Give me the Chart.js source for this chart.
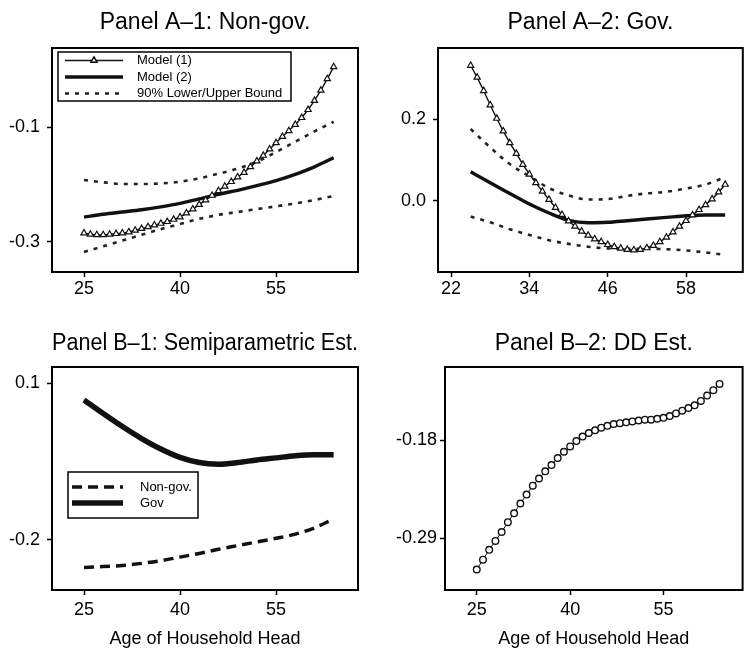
<!DOCTYPE html>
<html>
<head>
<meta charset="utf-8">
<script src="https://cdn.jsdelivr.net/npm/chart.js@4.4.1/dist/chart.umd.min.js"></script>
<style>
  html, body { margin: 0; padding: 0; background: #fff; }
  #wrap { position: relative; width: 748px; height: 651px; overflow: hidden; }
  canvas { position: absolute; }
</style>
</head>
<body>
<div id="wrap">
  <canvas id="chartA1" width="374" height="310" style="left:0;top:0"></canvas>
  <canvas id="chartA2" width="374" height="310" style="left:374px;top:0"></canvas>
  <canvas id="chartB1" width="374" height="341" style="left:0;top:310px"></canvas>
  <canvas id="chartB2" width="374" height="341" style="left:374px;top:310px"></canvas>
</div>
<script>
// ages: one point per year for the marker series, every 3 years for the smooth lines
const agesYearly = [25, 26, 27, 28, 29, 30, 31, 32, 33, 34, 35, 36, 37, 38, 39, 40, 41, 42, 43, 44,
                    45, 46, 47, 48, 49, 50, 51, 52, 53, 54, 55, 56, 57, 58, 59, 60, 61, 62, 63, 64];
const agesCoarse = [25, 28, 31, 34, 37, 40, 43, 46, 49, 52, 55, 58, 61, 64];

// Panel A-1: Non-gov.
const a1Model1 = [-0.285, -0.287, -0.288, -0.288, -0.287, -0.286, -0.285, -0.283, -0.280, -0.277,
                  -0.274, -0.271, -0.268, -0.265, -0.261, -0.257, -0.250, -0.243, -0.235, -0.227,
                  -0.219, -0.211, -0.203, -0.195, -0.187, -0.179, -0.169, -0.159, -0.149, -0.138,
                  -0.127, -0.116, -0.106, -0.095, -0.083, -0.069, -0.053, -0.035, -0.015, 0.006];
const a1Model2 = [-0.257, -0.252, -0.248, -0.244, -0.239, -0.233, -0.225, -0.217, -0.210, -0.202, -0.193, -0.182, -0.169, -0.153];
const a1Upper  = [-0.192, -0.196, -0.199, -0.199, -0.198, -0.195, -0.189, -0.181, -0.172, -0.160, -0.143, -0.125, -0.107, -0.090];
const a1Lower  = [-0.318, -0.308, -0.298, -0.288, -0.278, -0.269, -0.260, -0.253, -0.248, -0.243, -0.238, -0.233, -0.227, -0.220];
const a1XTicks = ['25', '40', '55'];
const a1YTicks = ['-0.3', '-0.1'];

// Panel A-2: Gov.
const a2Model1 = [0.332, 0.303, 0.270, 0.235, 0.202, 0.171, 0.142, 0.116, 0.089, 0.065,
                  0.044, 0.023, 0.003, -0.017, -0.034, -0.050, -0.063, -0.075, -0.085, -0.094,
                  -0.101, -0.108, -0.113, -0.117, -0.120, -0.121, -0.120, -0.116, -0.110, -0.101,
                  -0.090, -0.077, -0.063, -0.049, -0.035, -0.022, -0.010, 0.004, 0.021, 0.040];
const a2Model2 = [0.071, 0.044, 0.018, -0.008, -0.030, -0.048, -0.054, -0.053, -0.049, -0.045, -0.041, -0.037, -0.035, -0.035];
const a2Upper  = [0.176, 0.131, 0.090, 0.060, 0.031, 0.013, 0.003, 0.004, 0.012, 0.018, 0.022, 0.030, 0.040, 0.058];
const a2Lower  = [-0.039, -0.053, -0.070, -0.084, -0.097, -0.106, -0.113, -0.117, -0.118, -0.118, -0.119, -0.122, -0.127, -0.133];
const a2XTicks = ['22', '34', '46', '58'];
const a2YTicks = ['0.0', '0.2'];

// Panel B-1: Semiparametric Est.
const b1NonGov = [-0.253, -0.251, -0.249, -0.245, -0.240, -0.233, -0.226, -0.218, -0.211, -0.204, -0.197, -0.189, -0.177, -0.160];
const b1Gov    = [0.068, 0.042, 0.017, -0.006, -0.026, -0.042, -0.052, -0.055, -0.052, -0.047, -0.043, -0.039, -0.037, -0.037];
const b1XTicks = ['25', '40', '55'];
const b1YTicks = ['-0.2', '0.1'];

// Panel B-2: DD Est.
const b2DD = [-0.325, -0.314, -0.303, -0.293, -0.283, -0.272, -0.262, -0.251, -0.241, -0.231,
              -0.223, -0.215, -0.208, -0.200, -0.193, -0.187, -0.181, -0.176, -0.172, -0.169,
              -0.166, -0.164, -0.162, -0.161, -0.160, -0.159, -0.158, -0.157, -0.157, -0.156,
              -0.155, -0.153, -0.150, -0.147, -0.144, -0.141, -0.136, -0.130, -0.124, -0.117];
const b2XTicks = ['25', '40', '55'];
const b2YTicks = ['-0.29', '-0.18'];

const FONT = '"Liberation Sans", Arial, Helvetica, sans-serif';
Chart.defaults.font.family = FONT;
Chart.defaults.color = '#000';

const pts = (xs, ys) => xs.map((x, i) => ({ x, y: ys[i] }));

// box round the plot area
const framePlugin = {
  id: 'frame',
  afterDraw(chart) {
    const { ctx, chartArea: a } = chart;
    ctx.save();
    ctx.strokeStyle = '#000';
    ctx.lineWidth = 2;
    ctx.strokeRect(a.left, a.top, a.right - a.left, a.bottom - a.top);
    ctx.restore();
  }
};

// legend drawn inside the plot with a border, like base R legend()
const boxLegendPlugin = {
  id: 'boxLegend',
  afterDraw(chart, args, opts) {
    if (!opts || !opts.w) return;
    const { ctx } = chart;
    ctx.save();
    ctx.fillStyle = '#fff';
    ctx.fillRect(opts.x, opts.y, opts.w, opts.h);
    ctx.strokeStyle = '#000';
    ctx.lineWidth = 1.5;
    ctx.strokeRect(opts.x, opts.y, opts.w, opts.h);
    ctx.font = '13px ' + FONT;
    ctx.textBaseline = 'middle';
    const seen = [];
    chart.data.datasets.forEach(ds => {
      if (seen.includes(ds.label)) return;
      seen.push(ds.label);
      const y = opts.y + opts.firstRow + (seen.length - 1) * opts.rowGap;
      const x0 = opts.x + opts.lineFrom, x1 = opts.x + opts.lineTo;
      ctx.strokeStyle = ds.borderColor;
      ctx.lineWidth = ds.borderWidth;
      ctx.setLineDash(ds.borderDash || []);
      ctx.beginPath(); ctx.moveTo(x0, y); ctx.lineTo(x1, y); ctx.stroke();
      ctx.setLineDash([]);
      if (ds.pointRadius) {
        ctx.fillStyle = '#fff';
        ctx.strokeStyle = '#000';
        Chart.helpers.drawPoint(ctx, { pointStyle: ds.pointStyle, radius: ds.pointRadius, rotation: 0, borderWidth: 1 }, (x0 + x1) / 2, y);
      }
      ctx.fillStyle = '#000';
      ctx.fillText(ds.label, opts.x + opts.textX, y);
    });
    ctx.restore();
  }
};

const markerLine = (label, data, style) => Object.assign({
  label, data, borderColor: '#111', borderWidth: 1.4, tension: 0,
  pointStyle: 'triangle', pointRadius: 3.6, pointBackgroundColor: '#fff',
  pointBorderColor: '#111', pointBorderWidth: 1.2
}, style || {});

const smoothLine = (label, data, style) => Object.assign({
  label, data, borderColor: '#111', borderWidth: 3.4, pointRadius: 0,
  cubicInterpolationMode: 'monotone'
}, style || {});

function makePanel(id, p) {
  const canvas = document.getElementById(id);
  const W = canvas.width, H = canvas.height;
  const tickFont = { size: 18 };
  return new Chart(canvas, {
    type: 'line',
    data: { datasets: p.datasets },
    plugins: [framePlugin, boxLegendPlugin],
    options: {
      responsive: false,
      animation: false,
      events: [],
      layout: { padding: { left: 0, right: W - p.area.r, top: 0, bottom: 0 } },
      plugins: {
        legend: { display: false },
        tooltip: { enabled: false },
        title: {
          display: true, text: p.title, fullSize: false, color: '#000',
          font: { size: 23, weight: 'normal', lineHeight: 1.2 },
          padding: { top: p.titleTop, bottom: p.area.t - p.titleTop - 27.6 }
        },
        boxLegend: p.legend || {}
      },
      scales: {
        x: {
          type: 'linear', min: p.xMin, max: p.xMax,
          afterBuildTicks: s => { s.ticks = p.xTicks.map(t => ({ value: +t })); },
          afterFit: s => { s.height = H - p.area.b; },
          ticks: { font: tickFont, padding: p.xPad, maxRotation: 0, autoSkip: false,
                   callback: (v, i) => p.xTicks[i] },
          grid: { drawOnChartArea: false, drawTicks: true, tickLength: 5, tickColor: '#000', tickWidth: 1.5 },
          border: { display: false },
          title: { display: !!p.xTitle, text: p.xTitle, font: { size: 18, lineHeight: 1.2 },
                   padding: { top: 0, bottom: 1.2 } }
        },
        y: {
          min: p.yMin, max: p.yMax,
          afterBuildTicks: s => { s.ticks = p.yTicks.map(t => ({ value: +t })); },
          afterFit: s => { s.width = p.area.l; },
          ticks: { font: tickFont, padding: p.yPad, callback: (v, i) => p.yTicks[i] },
          grid: { drawOnChartArea: false, drawTicks: true, tickLength: 5, tickColor: '#000', tickWidth: 1.5 },
          border: { display: false }
        }
      }
    }
  });
}

const boundStyle = { borderColor: '#222', borderWidth: 2.6, borderDash: [4, 6] };

makePanel('chartA1', {
  title: 'Panel A\u20131: Non-gov.', titleTop: 8.5,
  area: { l: 52, r: 358, t: 48, b: 272 },
  xMin: 20, xMax: 67.8, yMin: -0.353, yMax: 0.039,
  xTicks: a1XTicks, yTicks: a1YTicks, xPad: 1, yPad: 7,
  datasets: [
    markerLine('Model (1)', pts(agesYearly, a1Model1)),
    smoothLine('Model (2)', pts(agesCoarse, a1Model2)),
    smoothLine('90% Lower/Upper Bound', pts(agesCoarse, a1Lower), boundStyle),
    smoothLine('90% Lower/Upper Bound', pts(agesCoarse, a1Upper), boundStyle)
  ],
  legend: { x: 58, y: 52, w: 233, h: 49, firstRow: 8.5, rowGap: 16.5, lineFrom: 7, lineTo: 65, textX: 79 }
});

makePanel('chartA2', {
  title: 'Panel A\u20132: Gov.', titleTop: 8.5,
  area: { l: 64, r: 372, t: 48, b: 272 },
  xMin: 20, xMax: 66.7, yMin: -0.175, yMax: 0.375,
  xTicks: a2XTicks, yTicks: a2YTicks, xPad: 1, yPad: 7,
  datasets: [
    markerLine('Model (1)', pts(agesYearly, a2Model1)),
    smoothLine('Model (2)', pts(agesCoarse, a2Model2)),
    smoothLine('90% Lower/Upper Bound', pts(agesCoarse, a2Lower), boundStyle),
    smoothLine('90% Lower/Upper Bound', pts(agesCoarse, a2Upper), boundStyle)
  ]
});

makePanel('chartB1', {
  title: 'Panel B\u20131: Semiparametric Est.', titleTop: 19.5,
  area: { l: 52, r: 358, t: 57, b: 280 },
  xMin: 20, xMax: 67.8, yMin: -0.296, yMax: 0.131,
  xTicks: b1XTicks, yTicks: b1YTicks, xPad: 4, yPad: 7,
  xTitle: 'Age of Household Head',
  datasets: [
    smoothLine('Non-gov.', pts(agesCoarse, b1NonGov), { borderWidth: 3.5, borderDash: [10, 6] }),
    smoothLine('Gov', pts(agesCoarse, b1Gov), { borderWidth: 5.5 })
  ],
  legend: { x: 68, y: 162, w: 130, h: 46, firstRow: 15, rowGap: 16, lineFrom: 4, lineTo: 55, textX: 72 }
});

makePanel('chartB2', {
  title: 'Panel B\u20132: DD Est.', titleTop: 19.5,
  area: { l: 71, r: 372, t: 57, b: 280 },
  xMin: 19.9, xMax: 67.7, yMin: -0.348, yMax: -0.098,
  xTicks: b2XTicks, yTicks: b2YTicks, xPad: 4, yPad: 3,
  xTitle: 'Age of Household Head',
  datasets: [
    markerLine('DD', pts(agesYearly, b2DD), { borderWidth: 1, pointStyle: 'circle', pointRadius: 3.3, pointBorderWidth: 1.4 })
  ]
});
</script>
</body>
</html>
